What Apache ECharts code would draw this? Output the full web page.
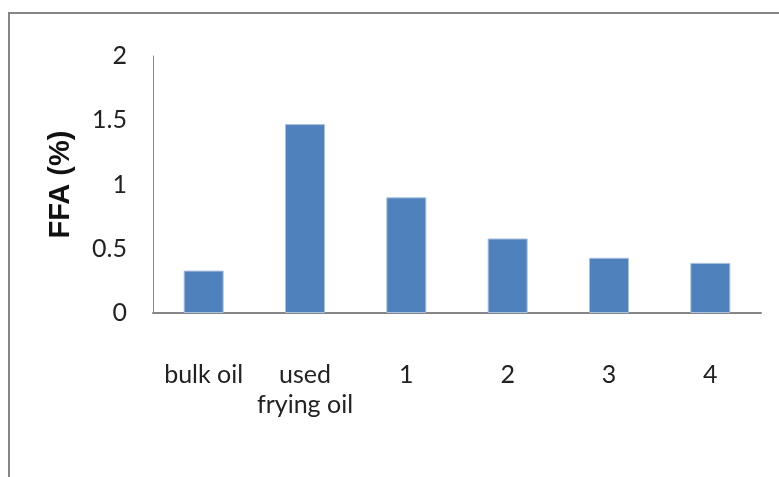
<!DOCTYPE html>
<html>
<head>
<meta charset="utf-8">
<style>
  html, body { margin: 0; padding: 0; background: #fff; }
  #chart { width: 779px; height: 477px; }
</style>
<script src="https://cdn.jsdelivr.net/npm/echarts@6/dist/echarts.min.js"></script>
</head>
<body>
<div id="chart"></div>
<script>
// Free fatty acid content per oil sample
const categories = ['bulk oil', 'used\nfrying oil', '1', '2', '3', '4'];
const ffaValues = [0.33, 1.47, 0.90, 0.58, 0.43, 0.39];
const yTicks = { min: 0, max: 2, interval: 0.5 };

const labelFont = "Lato, 'Open Sans', sans-serif";

const chart = echarts.init(document.getElementById('chart'), null, { renderer: 'canvas' });

chart.setOption({
  animation: false,
  backgroundColor: '#ffffff',
  graphic: [{
    // outer frame of the chart area
    type: 'rect',
    silent: true,
    shape: { x: 9, y: 13, width: 820, height: 520 },
    style: { fill: 'none', stroke: '#868686', lineWidth: 2 }
  }],
  grid: { left: 153, right: 18, top: 56, bottom: 164, containLabel: false },
  xAxis: {
    type: 'category',
    data: categories,
    axisLine: { lineStyle: { color: '#868686', width: 2 } },
    axisTick: { show: false },
    axisLabel: {
      interval: 0,
      margin: 47,
      fontFamily: labelFont,
      fontSize: 25,
      lineHeight: 30,
      color: '#222'
    }
  },
  yAxis: {
    type: 'value',
    min: yTicks.min,
    max: yTicks.max,
    interval: yTicks.interval,
    name: 'FFA (%)',
    nameLocation: 'middle',
    nameRotate: 90,
    nameGap: 78,
    nameTextStyle: {
      fontFamily: 'Liberation Sans',
      fontWeight: 'bold',
      fontSize: 29,
      color: '#111'
    },
    splitLine: { show: false },
    axisTick: { show: false },
    axisLine: { show: true, lineStyle: { color: '#868686', width: 1 } },
    axisLabel: {
      margin: 26,
      fontFamily: labelFont,
      fontSize: 25,
      color: '#222'
    }
  },
  series: [{
    type: 'bar',
    data: ffaValues,
    barWidth: 40,
    itemStyle: { color: '#4F81BD', borderColor: '#a9c1e0', borderWidth: 1 }
  }]
});
</script>
</body>
</html>
